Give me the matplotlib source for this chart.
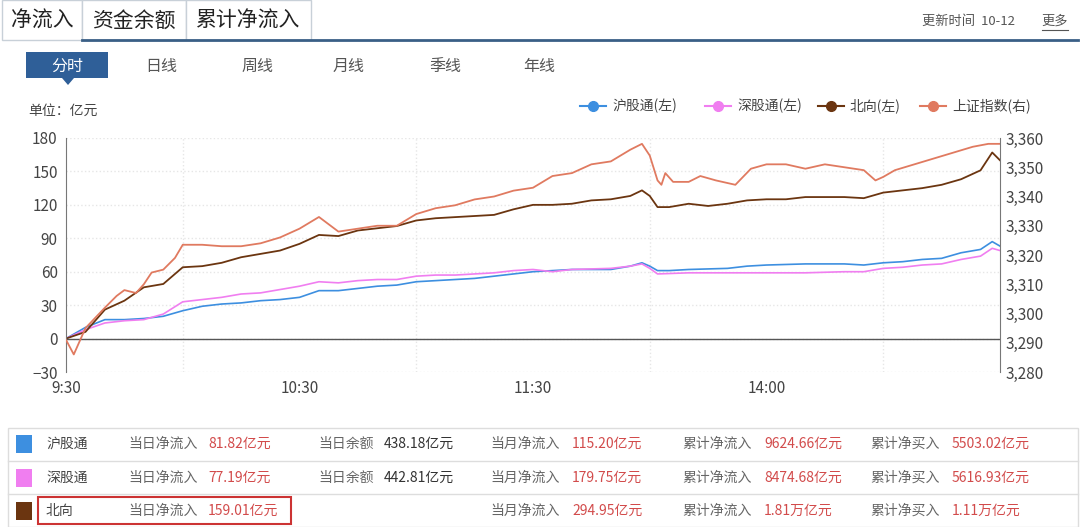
import matplotlib
matplotlib.use("Agg")
import matplotlib.pyplot as plt
from matplotlib.patches import Rectangle
from matplotlib.lines import Line2D

plt.rcParams['font.family'] = ['Noto Sans CJK SC', 'DejaVu Sans']

# ---- data (minute index 0..240) ----
north_t = [0,5,10,15,20,25,30,35,40,45,50,55,60,65,70,75,80,85,90,95,100,105,110,115,120,125,130,135,140,145,148,150,152,155,160,165,170,175,180,185,190,195,200,205,210,215,220,225,230,235,238,240]
north_v = [0,6,26,34,46,49,64,65,68,73,76,79,85,93,92,97,99,101,106,108,109,110,111,116,120,120,121,124,125,128,133,128,118,118,121,119,121,124,125,125,127,127,127,126,131,133,135,138,143,151,167,160]
sh_t = [0,5,10,15,20,25,30,35,40,45,50,55,60,65,70,75,80,85,90,95,100,105,110,115,120,130,140,145,148,150,152,155,160,170,175,180,190,200,205,210,215,220,225,230,235,238,240]
sh_v = [0,10,17,17,18,20,25,29,31,32,34,35,37,43,43,45,47,48,51,52,53,54,56,58,60,62,62,65,68,65,61,61,62,63,65,66,67,67,66,68,69,71,72,77,80,87,83]
sz_t = [0,5,10,15,20,25,30,35,40,45,50,55,60,65,70,75,80,85,90,95,100,105,110,115,120,125,130,140,145,148,150,152,160,170,180,190,200,205,210,215,220,225,230,235,238,240]
sz_v = [0,8,14,16,17,22,33,35,37,40,41,44,47,51,50,52,53,53,56,57,57,58,59,61,62,60,62,63,65,67,63,58,59,59,59,59,60,60,63,64,66,67,71,74,81,79]
idx_t = [0,2,5,10,13,15,18,20,22,25,28,30,35,40,45,50,55,60,65,70,75,80,85,90,95,100,105,110,115,120,125,130,135,140,145,148,150,152,153,154,156,160,163,167,172,176,180,185,190,195,200,205,208,210,213,218,223,228,233,237,240]
idx_v = [3291,3286,3295,3302,3306,3308,3307,3310,3314,3315,3319,3323.5,3323.5,3323,3323,3324,3326,3329,3333,3328,3329,3330,3330,3334,3336,3337,3339,3340,3342,3343,3347,3348,3351,3352,3356,3358,3354,3345.5,3344,3348,3345,3345,3347,3345.5,3344,3349.5,3351,3351,3349.5,3351,3350,3349,3345.5,3346.7,3349,3351,3353,3355,3357,3358,3358]
x_ticks = [0, 60, 120, 180]
x_labels = ['9:30', '10:30', '11:30', '14:00']
left_ticks = [-30, 0, 30, 60, 90, 120, 150, 180]
right_ticks = [3280, 3290, 3300, 3310, 3320, 3330, 3340, 3350, 3360]
tabs = ['净流入', '资金余额', '累计净流入']
periods = ['分时', '日线', '周线', '月线', '季线', '年线']
legend_names = ['沪股通(左)', '深股通(左)', '北向(左)', '上证指数(右)']
row_names = ['沪股通', '深股通', '北向']
row_today = ['81.82亿元', '77.19亿元', '159.01亿元']
row_bal = ['438.18亿元', '442.81亿元', '']
row_month = ['115.20亿元', '179.75亿元', '294.95亿元']
row_cum = ['9624.66亿元', '8474.68亿元', '1.81万亿元']
row_buy = ['5503.02亿元', '5616.93亿元', '1.11万亿元']

C_SH, C_SZ, C_N, C_I = '#3d8fe0', '#f07ef0', '#6b3510', '#e07a60'

W, H = 1080, 527
fig = plt.figure(figsize=(W/100, H/100), dpi=100)
def fx(px): return px / W
def fy(py): return 1 - py / H
def txt(px, py, s, **kw):
    kw.setdefault('va', 'center')
    fig.text(fx(px), fy(py), s, **kw)

# tabs
tab_x = [(2, 82), (82, 186), (186, 311)]
for (a, b), s in zip(tab_x, tabs):
    fig.add_artist(Rectangle((fx(a), fy(40)), fx(b - a), 40/H, facecolor='white',
                             edgecolor='#c8d0d8', lw=1, transform=fig.transFigure))
    txt((a + b) / 2, 21, s, ha='center', fontsize=15, color='#222222')
fig.add_artist(Line2D([fx(82), fx(1078)], [fy(40), fy(40)], color='#3a5f86', lw=2, transform=fig.transFigure))
txt(1015, 21, '更新时间  10-12', ha='right', fontsize=9.5, color='#555555')
txt(1055, 21, '更多', ha='center', fontsize=9.5, color='#555555')
fig.add_artist(Line2D([fx(1042), fx(1068)], [fy(30), fy(30)], color='#555555', lw=0.8, transform=fig.transFigure))

# period selector
fig.add_artist(Rectangle((fx(26), fy(78)), fx(82), 26/H, facecolor='#2f5f98', transform=fig.transFigure))
fig.add_artist(plt.Polygon([[fx(62), fy(78)], [fx(74), fy(78)], [fx(68), fy(85)]], facecolor='#2f5f98', transform=fig.transFigure))
px_list = [67, 161, 257, 349, 445, 539]
for p, s in zip(px_list, periods):
    txt(p, 66, s, ha='center', fontsize=11.5, color='white' if s == '分时' else '#555555')

txt(28, 111, '单位：亿元', fontsize=10, color='#444444')

# legend
leg_x = [580, 705, 818, 920]
for lx, s, c in zip(leg_x, legend_names, [C_SH, C_SZ, C_N, C_I]):
    fig.add_artist(Line2D([fx(lx), fx(lx + 26)], [fy(106), fy(106)], color=c, lw=1.5, transform=fig.transFigure))
    fig.add_artist(Line2D([fx(lx + 13)], [fy(106)], marker='o', ms=7, color=c, transform=fig.transFigure))
    txt(lx + 32, 106, s, fontsize=10, color='#444444')

# main chart
ax = fig.add_axes([fx(66), fy(372), fx(1000 - 66), (372 - 138) / H])
ax.plot(sh_t, sh_v, color=C_SH, lw=1.2)
ax.plot(sz_t, sz_v, color=C_SZ, lw=1.2)
ax.plot(north_t, north_v, color=C_N, lw=1.3)
ax.set_xlim(0, 240)
ax.set_ylim(-30, 180)
ax.set_yticks(left_ticks)
ax.set_xticks(x_ticks, x_labels)
ax.set_xticks([30, 90, 150, 210], minor=True)
ax.grid(True, which='minor', axis='x', color='#e6e6e6', ls=':', lw=1)
ax.grid(True, which='major', axis='y', color='#e6e6e6', ls=':', lw=1)
ax.axhline(0, color='#555555', lw=1)
for s in ['top', 'right', 'bottom']:
    ax.spines[s].set_visible(False)
ax.spines['left'].set_color('#777777')
ax.tick_params(axis='both', length=0, labelsize=11, colors='#444444', pad=6)
ax.tick_params(axis='x', which='minor', length=0)
ax2 = ax.twinx()
ax2.plot(idx_t, idx_v, color=C_I, lw=1.3)
ax2.set_ylim(3280, 3360)
ax2.set_yticks(right_ticks, [f'{v:,}' for v in right_ticks])
for s in ['top', 'left', 'bottom']:
    ax2.spines[s].set_visible(False)
ax2.spines['right'].set_color('#777777')
ax2.tick_params(axis='y', length=0, labelsize=11, colors='#444444', pad=4)

# table
rows_y = [444, 478, 511]
fig.add_artist(Rectangle((fx(8), fy(527)), fx(1070), (527 - 428) / H, facecolor='none',
                         edgecolor='#dddddd', lw=1, transform=fig.transFigure))
for yb in [461, 494]:
    fig.add_artist(Line2D([fx(8), fx(1078)], [fy(yb), fy(yb)], color='#dddddd', lw=1, transform=fig.transFigure))
for i, (ry, c) in enumerate(zip(rows_y, [C_SH, C_SZ, C_N])):
    fig.add_artist(Rectangle((fx(16), fy(ry + 9)), fx(16), 18/H, facecolor=c, transform=fig.transFigure))
    txt(46, ry, row_names[i], fontsize=10, color='#444444')
    txt(128, ry, '当日净流入', fontsize=10, color='#666666')
    txt(208, ry, row_today[i], fontsize=10, color='#d24b4b')
    if row_bal[i]:
        txt(318, ry, '当日余额', fontsize=10, color='#666666')
        txt(384, ry, row_bal[i], fontsize=10, color='#333333')
    txt(490, ry, '当月净流入', fontsize=10, color='#666666')
    txt(572, ry, row_month[i], fontsize=10, color='#d24b4b')
    txt(682, ry, '累计净流入', fontsize=10, color='#666666')
    txt(764, ry, row_cum[i], fontsize=10, color='#d24b4b')
    txt(870, ry, '累计净买入', fontsize=10, color='#666666')
    txt(952, ry, row_buy[i], fontsize=10, color='#d24b4b')
fig.add_artist(Rectangle((fx(38), fy(524)), fx(253), (524 - 497) / H, facecolor='none',
                         edgecolor='#cc3333', lw=1.5, transform=fig.transFigure))

fig.savefig('out.png', dpi=100, facecolor='white')
